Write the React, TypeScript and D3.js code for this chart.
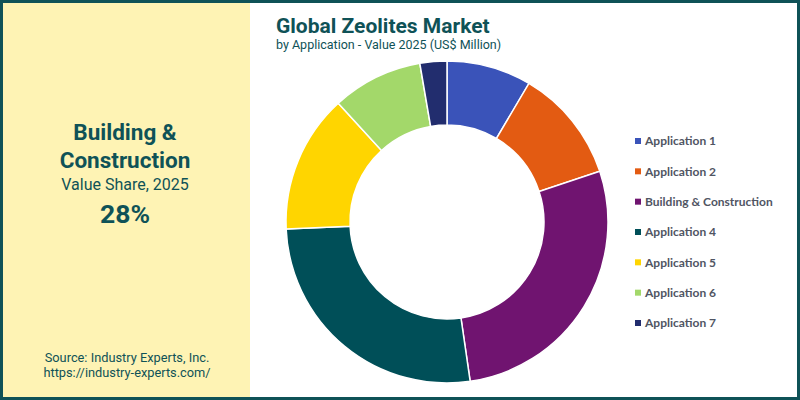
import { useRef, useEffect } from "react";
import * as d3 from "d3";

const categories = [
  "Application 1",
  "Application 2",
  "Building & Construction",
  "Application 4",
  "Application 5",
  "Application 6",
  "Application 7",
];
const shares = [8.5, 11.4, 27.8, 26.6, 13.9, 9.1, 2.7];
const colors = ["#3a53b9", "#e35b12", "#701470", "#004f58", "#ffd500", "#a3d86a", "#222d6e"];

const TEAL = "#0f5257";

function Donut() {
  const svgRef = useRef<SVGSVGElement>(null);

  useEffect(() => {
    if (!svgRef.current) return;
    const svg = d3.select(svgRef.current);
    svg.selectAll("*").remove();

    const data = categories.map((c, i) => ({ label: c, value: shares[i], color: colors[i] }));

    // panels
    svg.append("rect").attr("width", 800).attr("height", 400).attr("fill", "#ffffff");
    svg.append("rect").attr("x", 0).attr("y", 0).attr("width", 250).attr("height", 400).attr("fill", "#fef3b4");
    svg
      .append("rect")
      .attr("x", 1.5)
      .attr("y", 1.5)
      .attr("width", 797)
      .attr("height", 397)
      .attr("fill", "none")
      .attr("stroke", TEAL)
      .attr("stroke-width", 3);

    // left panel text
    const left = svg.append("g").attr("font-family", "Roboto").attr("fill", TEAL).attr("text-anchor", "middle");
    left.append("text").attr("x", 125).attr("y", 140).style("font-size", "22.5px").style("font-weight", "700").text("Building &");
    left.append("text").attr("x", 125).attr("y", 168).style("font-size", "22.5px").style("font-weight", "700").text("Construction");
    left.append("text").attr("x", 125).attr("y", 190).style("font-size", "16px").text("Value Share, 2025");
    left.append("text").attr("x", 125).attr("y", 223).style("font-size", "26.5px").style("font-weight", "700").text("28%");
    left.append("text").attr("x", 127).attr("y", 362).style("font-size", "12.8px").text("Source: Industry Experts, Inc.");
    left.append("text").attr("x", 127).attr("y", 377).style("font-size", "12.8px").text("https://industry-experts.com/");

    // title
    const t = svg.append("g").attr("font-family", "Roboto").attr("fill", TEAL);
    t.append("text").attr("x", 276).attr("y", 33).style("font-size", "21px").style("font-weight", "700").text("Global Zeolites Market");
    t.append("text").attr("x", 276).attr("y", 49).style("font-size", "12.5px").text("by Application - Value 2025 (US$ Million)");

    // donut
    const cx = 447;
    const cy = 222;
    const outer = 161;
    const inner = 97;
    const pie = d3
      .pie<{ label: string; value: number; color: string }>()
      .value((d) => d.value)
      .sort(null);
    const arc = d3
      .arc<d3.PieArcDatum<{ label: string; value: number; color: string }>>()
      .innerRadius(inner)
      .outerRadius(outer);

    svg
      .append("g")
      .attr("transform", `translate(${cx},${cy})`)
      .selectAll("path")
      .data(pie(data))
      .enter()
      .append("path")
      .attr("d", arc)
      .attr("fill", (d) => d.data.color)
      .attr("stroke", "#ffffff")
      .attr("stroke-width", 1.5);

    // legend
    const y = d3
      .scalePoint()
      .domain(categories)
      .range([141, 323]);
    const legend = svg.append("g");
    data.forEach((d) => {
      const yy = y(d.label)!;
      legend.append("rect").attr("x", 635).attr("y", yy - 3).attr("width", 6).attr("height", 6).attr("fill", d.color);
      legend
        .append("text")
        .attr("x", 645)
        .attr("y", yy)
        .attr("dy", "0.35em")
        .attr("font-family", "Lato")
        .style("font-size", "12px")
        .style("font-weight", "700")
        .style("fill", "#505563")
        .text(d.label);
    });
  }, []);

  return <svg ref={svgRef} width={800} height={400} style={{ display: "block" }} />;
}

export default function App() {
  return (
    <div style={{ position: "fixed", left: 0, top: 0 }}>
      <Donut />
    </div>
  );
}
